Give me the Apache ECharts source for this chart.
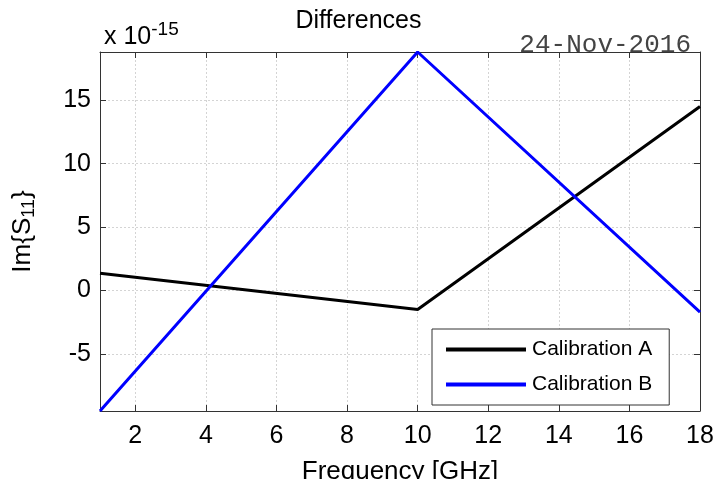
<!DOCTYPE html>
<html>
<head>
<meta charset="utf-8">
<script src="https://cdn.jsdelivr.net/npm/echarts@6/dist/echarts.min.js"></script>
<style>
  html, body { margin: 0; padding: 0; background: #fff; }
  #main { width: 717px; height: 479px; }
</style>
</head>
<body>
<div id="main"></div>
<script>
// frequency [GHz] and Im{S11} (x 1e-15) at the corners of each line
var calA = [[1, 1.36], [10, -1.5], [18, 14.5]];
var calB = [[1, -9.5], [10, 18.8], [18, -1.7]];
var xTicks = [2, 4, 6, 8, 10, 12, 14, 16, 18];
var yTicks = [-5, 0, 5, 10, 15];

var chart = echarts.init(document.getElementById('main'));
var font = 'Liberation Sans';

var option = {
  animation: false,
  title: [
    {
      text: 'Differences',
      left: 'center',
      top: 4,
      textStyle: { fontFamily: font, fontSize: 25, fontWeight: 'normal', color: '#000' }
    },
    {
      text: '24-Nov-2016',
      right: 21,
      top: 27,
      textStyle: { fontFamily: 'Liberation Mono', fontSize: 26, fontWeight: 'normal', color: '#444' }
    },
    {
      text: 'x 10{sup|-15}',
      left: 99,
      top: 15,
      textStyle: {
        fontFamily: font, fontSize: 25, fontWeight: 'normal', color: '#000',
        rich: { sup: { fontFamily: font, fontSize: 19, color: '#000', padding: [0, 0, 16, 0] } }
      }
    }
  ],
  grid: { left: 100, right: 17, top: 52, bottom: 68, outerBoundsMode: 'none', containLabel: false },
  legend: {
    left: 432,
    top: 329,
    orient: 'vertical',
    backgroundColor: '#fff',
    borderColor: '#333',
    borderWidth: 1,
    padding: [10, 17, 10, 14],
    itemGap: 14,
    itemWidth: 80,
    itemHeight: 4,
    icon: 'rect',
    textStyle: { fontFamily: font, fontSize: 21, color: '#000', padding: [0, 0, 0, 1] },
    data: ['Calibration A', 'Calibration B']
  },
  xAxis: [
    {
      type: 'value',
      min: 1,
      max: 18,
      name: 'Frequency [GHz]',
      nameLocation: 'middle',
      nameGap: 48,
      nameTextStyle: { fontFamily: font, fontSize: 26, color: '#000' },
      axisLine: { onZero: false, lineStyle: { color: '#333', width: 1 } },
      axisTick: { inside: true, length: 6, customValues: xTicks, lineStyle: { color: '#333' } },
      axisLabel: { customValues: xTicks, fontFamily: font, fontSize: 25, color: '#000', margin: 13 },
      splitLine: { show: true, lineStyle: { color: '#d4d4d4', type: [2, 2], width: 1 } }
    },
    {
      type: 'value',
      min: 1,
      max: 18,
      position: 'top',
      axisLine: { onZero: false, lineStyle: { color: '#333', width: 1 } },
      axisTick: { inside: true, length: 6, customValues: xTicks, lineStyle: { color: '#333' } },
      axisLabel: { show: false },
      splitLine: { show: false }
    }
  ],
  yAxis: [
    {
      type: 'value',
      min: -9.5,
      max: 18.8,
      name: 'Im{S{sub|11}}',
      nameLocation: 'middle',
      nameGap: 62,
      nameTextStyle: {
        fontFamily: font, fontSize: 26, color: '#000',
        rich: { sub: { fontFamily: font, fontSize: 18, color: '#000', padding: [12, 0, 0, 0] } }
      },
      axisLine: { onZero: false, lineStyle: { color: '#333', width: 1 } },
      axisTick: { inside: true, length: 6, customValues: yTicks, lineStyle: { color: '#333' } },
      axisLabel: { customValues: yTicks, fontFamily: font, fontSize: 25, color: '#000', margin: 9 },
      splitLine: { show: true, lineStyle: { color: '#d4d4d4', type: [2, 2], width: 1 } }
    },
    {
      type: 'value',
      min: -9.5,
      max: 18.8,
      position: 'right',
      axisLine: { onZero: false, lineStyle: { color: '#333', width: 1 } },
      axisTick: { inside: true, length: 6, customValues: yTicks, lineStyle: { color: '#333' } },
      axisLabel: { show: false },
      splitLine: { show: false }
    }
  ],
  series: [
    {
      name: 'Calibration A',
      type: 'line',
      data: calA,
      showSymbol: false,
      color: '#000',
      lineStyle: { color: '#000', width: 3 }
    },
    {
      name: 'Calibration B',
      type: 'line',
      data: calB,
      showSymbol: false,
      color: '#0000ff',
      lineStyle: { color: '#0000ff', width: 3 }
    }
  ]
};
chart.setOption(option);
</script>
</body>
</html>
